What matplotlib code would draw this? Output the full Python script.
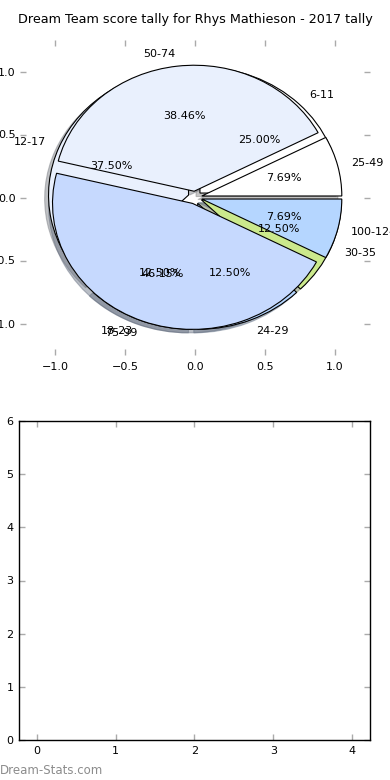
import matplotlib
matplotlib.use("Agg")
import matplotlib.pyplot as plt

title = "Dream Team score tally for Rhys Mathieson - 2017 tally"

# Pie B (drawn underneath)
labels_b = ["6-11", "12-17", "18-23", "24-29", "30-35"]
values_b = [2, 3, 1, 1, 1]
colors_b = ["#ffffff", "#e9f0fd", "#c6d9fe", "#b5d6ff", "#cbe98c"]

# Pie A (drawn on top)
labels_a = ["25-49", "50-74", "75-99", "100-124"]
values_a = [1, 5, 6, 1]
colors_a = ["#ffffff", "#e9f0fd", "#c6d9fe", "#b5d6ff"]

bar_xticks = [0, 1, 2, 3, 4]
bar_yticks = [0, 1, 2, 3, 4, 5, 6]

plt.rcParams["font.family"] = ["DejaVu Sans"]
fig = plt.figure(figsize=(3.9, 7.8), dpi=100)

ax1 = fig.add_axes([20/390, 1-355/780, 350/390, 315/780])
for vals, labs, cols in [(values_b, labels_b, colors_b), (values_a, labels_a, colors_a)]:
    wedges, texts, autotexts = ax1.pie(
        vals, labels=labs, colors=cols, explode=[0.05]*len(vals),
        autopct="%1.2f%%", shadow=dict(ox=-0.02, oy=-0.02, shade=0.5, alpha=0.45),
        startangle=0,
        wedgeprops=dict(edgecolor="black", linewidth=0.8),
        textprops=dict(fontsize=8))
ax1.set_aspect("auto")
ax1.set_xlim(-1.25, 1.25)
ax1.set_ylim(-1.25, 1.25)
ax1.set_frame_on(False)
ax1.set_xticks([-1.0, -0.5, 0.0, 0.5, 1.0])
ax1.set_yticks([-1.0, -0.5, 0.0, 0.5, 1.0])
ax1.set_xticklabels(["\u22121.0", "\u22120.5", "0.0", "0.5", "1.0"])
ax1.set_yticklabels(["\u22121.0", "\u22120.5", "0.0", "0.5", "1.0"])
ax1.tick_params(direction="in", top=True, right=True, color="#aaaaaa",
                length=4, width=1, labelsize=8)
ax1.tick_params(axis="x", pad=5)
ax1.tick_params(axis="y", pad=3)
ax1.set_title(title, fontsize=9.2, pad=12)

ax2 = fig.add_axes([19/390, 1-740/780, 351/390, 319/780])
ax2.set_xlim(-0.23, 4.23)
ax2.set_ylim(0, 6)
ax2.set_xticks(bar_xticks)
ax2.set_yticks(bar_yticks)
ax2.tick_params(direction="in", top=True, right=True, color="#aaaaaa",
                length=4, width=1, labelsize=8, pad=4)
for s in ax2.spines.values():
    s.set_linewidth(1)

fig.text(0.0, 0.004, "Dream-Stats.com", fontsize=8.5, color="#8c8c8c",
         ha="left", va="bottom")

fig.savefig("out.png", dpi=100)
